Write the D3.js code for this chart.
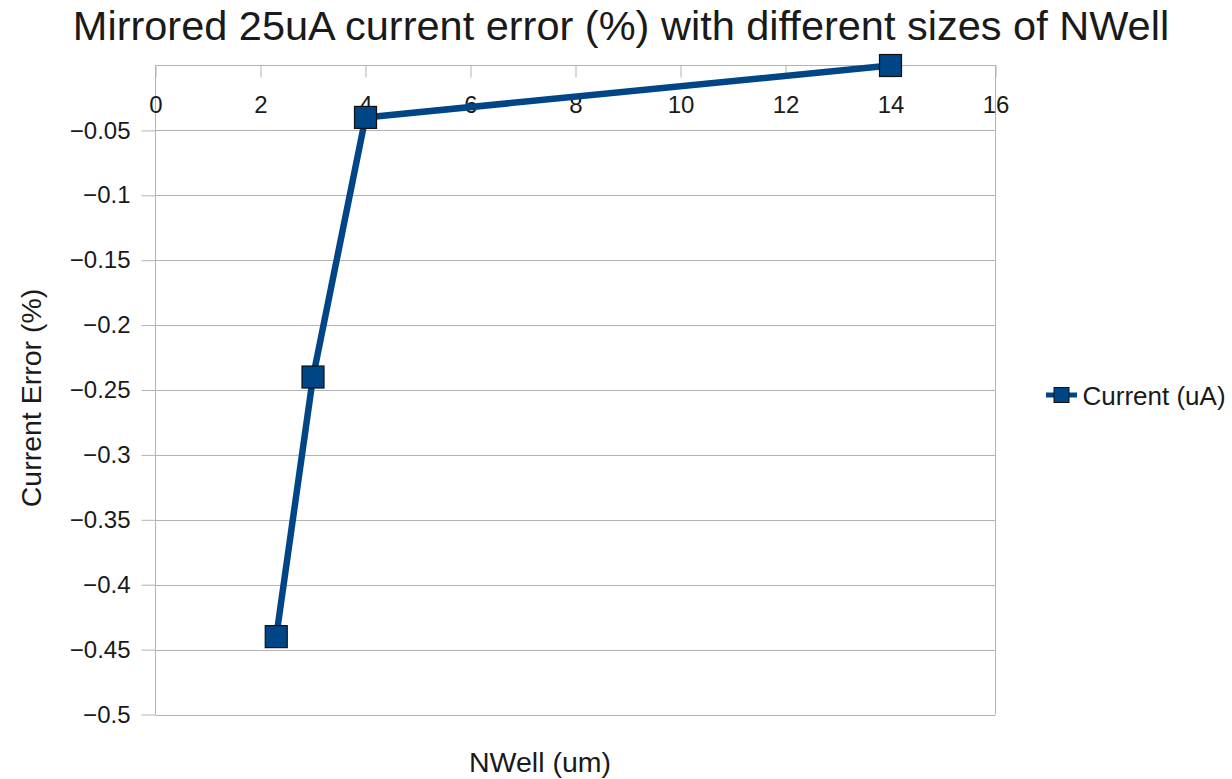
<!DOCTYPE html>
<meta charset="utf-8">
<style>
    body { margin: 0; background: #fff; }
    svg text { font-family: "Liberation Sans", Arial, sans-serif; fill: #1a1a1a; }
    .axis path { display: none; }
    .axis line { stroke: #b3b3b3; }
    .grid line { stroke: #b3b3b3; stroke-width: 1px; }
</style>
<body>
    <svg width="1232" height="779"></svg>
    <script src="https://d3js.org/d3.v7.min.js"></script>
    <script>
        // data
        const nwell = [2.3, 3, 4, 14];
        const currentError = [-0.44, -0.24, -0.04, 0];
        const xTicks = [0, 2, 4, 6, 8, 10, 12, 14, 16];
        const yTicks = [-0.05, -0.1, -0.15, -0.2, -0.25, -0.3, -0.35, -0.4, -0.45, -0.5];
        const seriesName = "Current (uA)";

        const plotLeft = 155.5, plotRight = 995.5, plotTop = 65.5, plotBottom = 714.5;
        const blue = "#004586";

        const svg = d3.select("svg");

        const x = d3.scaleLinear().domain([0, 16]).range([plotLeft, plotRight]);
        const y = d3.scaleLinear().domain([0, -0.5]).range([plotTop, plotBottom]);

        const minus = s => String(s).replace("-", "\u2212");

        // horizontal grid
        svg.append("g")
            .attr("class", "grid")
            .selectAll("line")
            .data(yTicks)
            .join("line")
            .attr("x1", plotLeft)
            .attr("x2", plotRight)
            .attr("y1", d => Math.round(y(d)) + 0.5)
            .attr("y2", d => Math.round(y(d)) + 0.5);

        // frame: top (zero line), left and right sides
        svg.append("line").attr("x1", plotLeft).attr("x2", plotRight).attr("y1", plotTop).attr("y2", plotTop)
            .attr("stroke", "#b3b3b3");
        svg.append("line").attr("x1", plotLeft).attr("x2", plotLeft).attr("y1", plotTop).attr("y2", plotBottom)
            .attr("stroke", "#b3b3b3");
        svg.append("line").attr("x1", plotRight).attr("x2", plotRight).attr("y1", plotTop).attr("y2", plotBottom)
            .attr("stroke", "#b3b3b3");

        // y axis
        const yAxis = svg.append("g")
            .attr("class", "axis")
            .attr("transform", "translate(" + plotLeft + ",0)")
            .call(d3.axisLeft(y).tickValues(yTicks).tickSize(14).tickPadding(11).tickFormat(minus));
        yAxis.selectAll("text")
            .style("font-size", "24px")
            .style("font-family", "'Liberation Sans', Arial, sans-serif")
            .attr("fill", "#1a1a1a");

        // x axis sits on the zero line at the top, ticks pointing down
        const xAxis = svg.append("g")
            .attr("class", "axis")
            .attr("transform", "translate(0," + plotTop + ")")
            .call(d3.axisBottom(x).tickValues(xTicks).tickSize(12));
        xAxis.selectAll("text")
            .attr("y", 47.5)
            .attr("dy", 0)
            .style("font-size", "24px")
            .style("font-family", "'Liberation Sans', Arial, sans-serif")
            .attr("fill", "#1a1a1a");

        // series line + markers
        const points = nwell.map((v, i) => [v, currentError[i]]);
        svg.append("path")
            .datum(points)
            .attr("fill", "none")
            .attr("stroke", blue)
            .attr("stroke-width", 6.5)
            .attr("stroke-linejoin", "round")
            .attr("d", d3.line().x(d => x(d[0])).y(d => y(d[1])));

        const m = 22;
        svg.selectAll("rect.marker")
            .data(points)
            .join("rect")
            .attr("class", "marker")
            .attr("x", d => x(d[0]) - m / 2)
            .attr("y", d => y(d[1]) - m / 2)
            .attr("width", m)
            .attr("height", m)
            .attr("fill", blue)
            .attr("stroke", "#111")
            .attr("stroke-width", 1.2);

        // titles
        svg.append("text")
            .attr("x", 621)
            .attr("y", 40)
            .attr("text-anchor", "middle")
            .style("font-size", "41.5px")
            .text("Mirrored 25uA current error (%) with different sizes of NWell");

        svg.append("text")
            .attr("x", 540)
            .attr("y", 772)
            .attr("text-anchor", "middle")
            .style("font-size", "28.5px")
            .text("NWell (um)");

        svg.append("text")
            .attr("transform", "translate(41,398) rotate(-90)")
            .attr("text-anchor", "middle")
            .style("font-size", "28.5px")
            .text("Current Error (%)");

        // legend
        const lg = svg.append("g").attr("transform", "translate(1046,395)");
        lg.append("line").attr("x1", 0).attr("x2", 31).attr("stroke", blue).attr("stroke-width", 5);
        lg.append("rect").attr("x", 8).attr("y", -7.5).attr("width", 15).attr("height", 15)
            .attr("fill", blue).attr("stroke", "#111").attr("stroke-width", 1);
        lg.append("text")
            .attr("x", 36.5)
            .attr("y", 9.5)
            .style("font-size", "26px")
            .text(seriesName);
    </script>
</body>
